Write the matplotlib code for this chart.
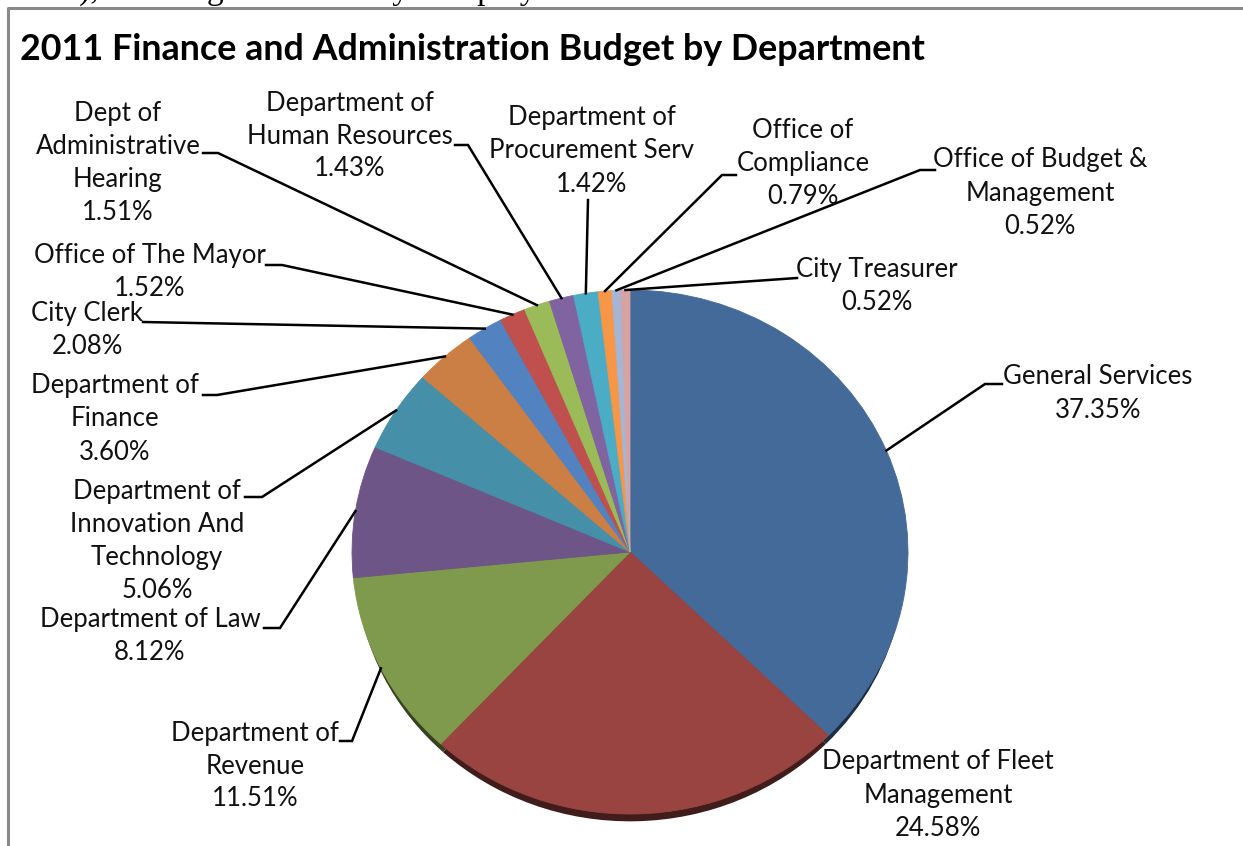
import numpy as np
import matplotlib
matplotlib.use("Agg")
import matplotlib.pyplot as plt
import matplotlib.colors as mcolors

# 2011 Finance and Administration budget share by department (clockwise from 12 o'clock)
departments = [
    "General Services",
    "Department of Fleet\nManagement",
    "Department of\nRevenue",
    "Department of Law",
    "Department of\nInnovation And\nTechnology",
    "Department of\nFinance",
    "City Clerk",
    "Office of The Mayor",
    "Dept of\nAdministrative\nHearing",
    "Department of\nHuman Resources",
    "Department of\nProcurement Serv",
    "Office of\nCompliance",
    "Office of Budget &\nManagement",
    "City Treasurer",
]
shares = [37.35, 24.58, 11.51, 8.12, 5.06, 3.60, 2.08, 1.52, 1.51, 1.43, 1.42, 0.79, 0.52, 0.52]

colors = ["#436a99", "#994440", "#7f9a4c", "#6e5587", "#4590a8", "#cc7f44",
          "#5283c0", "#c0504d", "#9bbb59", "#8064a2", "#4bacc6", "#f79646",
          "#a5b5d6", "#d7a3a2"]

# label placement in pixels: (centre x, first line y, leader points from text towards pie)
label_pos = [
    (1098, 377, [(1002, 384), (985, 384)]),
    (938, 762, None),
    (255, 733, [(340, 741), (352, 741)]),
    (150, 620, [(264, 628), (280, 628)]),
    (157, 492, [(245, 497), (262, 497)]),
    (115, 386, [(203, 395), (217, 395)]),
    (87, 313, [(143, 322)]),
    (150, 256, [(266, 265), (282, 265)]),
    (118, 113, [(203, 153), (218, 153)]),
    (350, 103, [(455, 145), (468, 145)]),
    (592, 118, [(588, 200)]),
    (803, 131, [(736, 175), (722, 175)]),
    (1040, 160, [(935, 170), (920, 170)]),
    (877, 270, [(797, 278)]),
]

W, H = 1243, 846
cx, cy, rx, ry = 630, 552, 278, 262
line_h = 33
font = "Lato"

fig = plt.figure(figsize=(W / 100, H / 100), dpi=100)
fig.patch.set_facecolor("white")

# pie drawn in its own axes so it can be squashed slightly
pax = fig.add_axes([(cx - rx) / W, (H - cy - ry) / H, 2 * rx / W, 2 * ry / H])
# dark copy shifted down gives the drop shadow along the lower rim
shadow = [mcolors.to_hex(np.array(mcolors.to_rgb(c)) * 0.42) for c in colors]
pax.pie(shares, colors=shadow, startangle=90, counterclock=False, center=(0, -0.04),
        radius=0.988, wedgeprops=dict(linewidth=0), normalize=True)
wedges, _ = pax.pie(shares, colors=colors, startangle=90, counterclock=False,
                    wedgeprops=dict(linewidth=0.6, edgecolor="none"), normalize=True)
for w, c in zip(wedges, colors):
    w.set_edgecolor(c)
pax.set_xlim(-1, 1)
pax.set_ylim(-1, 1)
pax.set_aspect("auto")
pax.axis("off")

# overlay in pixel coordinates for frame, title, labels and leaders
ax = fig.add_axes([0, 0, 1, 1], zorder=3)
ax.set_xlim(0, W)
ax.set_ylim(H, 0)
ax.axis("off")
ax.patch.set_alpha(0)

ax.plot([8, 8, W], [H, 8, 8], color="#8a8a8a", lw=2.2, solid_capstyle="butt")
ax.text(40, -1, "nts), covering all of the city's employees and", fontsize=24,
        family="Liberation Serif", va="baseline", ha="left", color="black")

ax.text(20, 50, "2011 Finance and Administration Budget by Department", fontsize=25.8,
        fontweight="bold", family=font, va="center", ha="left", color="black")

to_px = ax.transData.inverted()
for w, name, val, pos in zip(wedges, departments, shares, label_pos):
    x, y0, path = pos
    lines = name.split("\n") + [f"{val:.2f}%"]
    for i, s in enumerate(lines):
        ax.text(x, y0 + i * line_h, s, fontsize=18.5, family=font, ha="center",
                va="center", color="#111111")
    if path is None:
        continue
    mid = np.deg2rad((w.theta1 + w.theta2) / 2)
    anchor = to_px.transform(pax.transData.transform((np.cos(mid), np.sin(mid))))
    pts = np.array(path + [tuple(anchor)])
    ax.plot(pts[:, 0], pts[:, 1], color="black", lw=1.8, solid_joinstyle="miter")

fig.savefig("out.png", dpi=100)
